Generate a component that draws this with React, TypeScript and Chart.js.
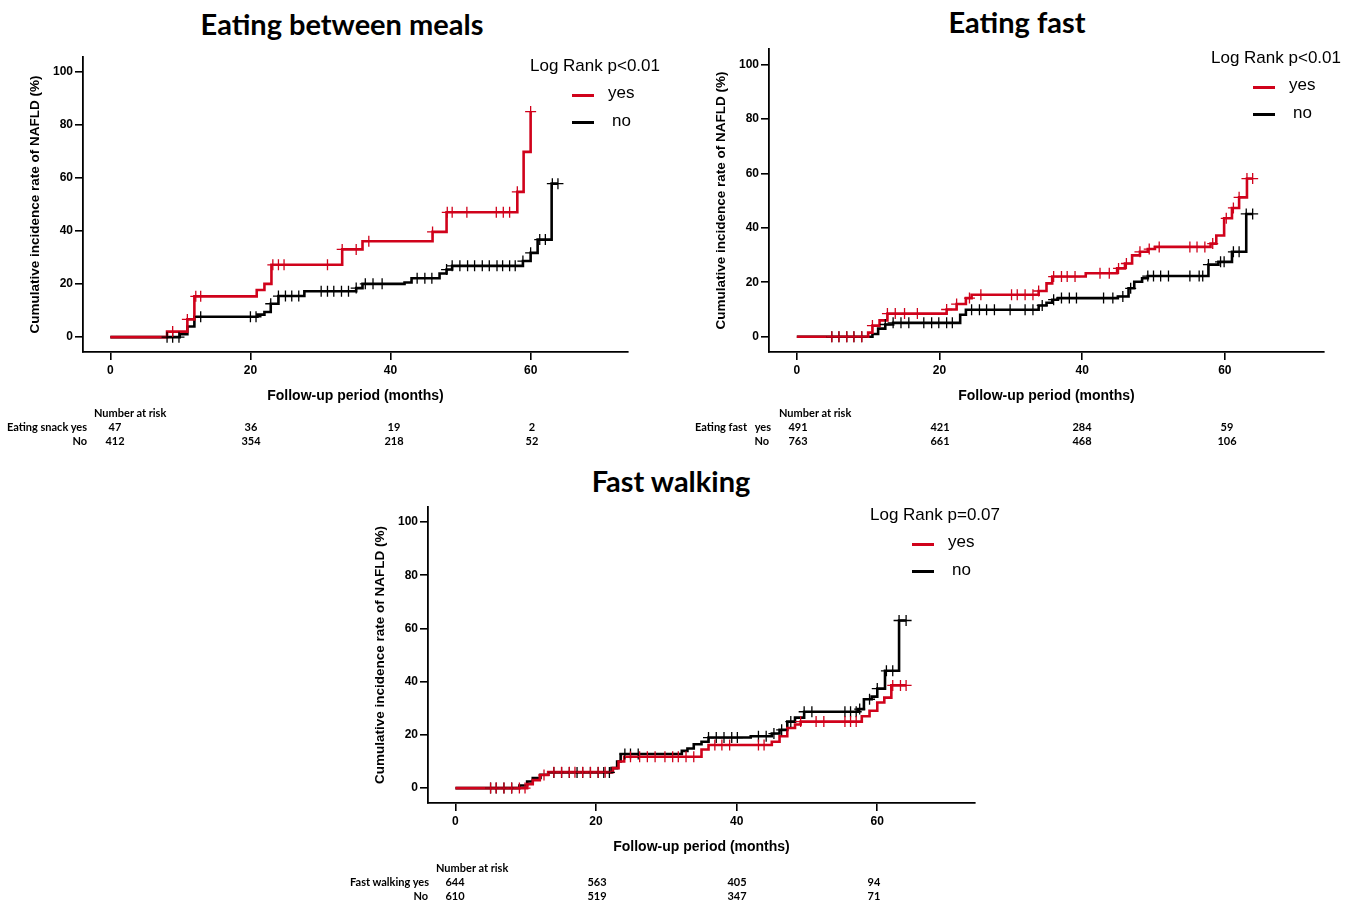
import React, { useEffect, useRef } from 'react';
import { Chart, registerables } from 'chart.js';
Chart.register(...registerables);

// ---------- shared axis values ----------
const xTicks = [0, 20, 40, 60];
const yTicks = [0, 20, 40, 60, 80, 100];
const xMin = -3.9;
const xMax = 73.9;
const yMin = -5.6;
const yMax = 105.6;

// ---------- Panel 1: Eating between meals ----------
const snackYesTimes = [0, 8.1, 11, 12, 20.9, 22, 23, 33.1, 36, 46, 48, 58.1, 59, 60];
const snackYesRates = [0, 2.1, 6.7, 15.4, 17.8, 20.1, 27.3, 33.1, 36.2, 39.7, 47.1, 54.8, 69.9, 85.1];
const snackYesCensor = [8.9, 11, 12.2, 12.9, 23.2, 24, 24.8, 31, 33.1, 35.1, 36.9, 46, 48.1, 48.8, 50.9, 55.1, 56.1, 57, 58.1, 60];
const snackNoTimes = [0, 9.9, 11, 12, 21, 22, 22.9, 24, 27.7, 35.1, 36, 42, 43, 47, 48, 48.8, 58.9, 60, 61, 63, 63.9];
const snackNoRates = [0, 1.1, 4, 7.7, 8.5, 9.5, 12.6, 15.5, 17.3, 18.5, 20.1, 20.6, 22.2, 24, 25.5, 26.9, 28.7, 31.8, 36.8, 57.9, 57.9];
const snackNoCensor = [8.1, 8.9, 9.8, 12.9, 20, 20.8, 22.9, 24, 25, 25.9, 26.9, 30.1, 31, 31.9, 33, 34, 35.1, 36.4, 37.5, 38.8, 43.8, 44.9, 45.9, 48, 48.8, 49.9, 51, 52, 53.1, 54.1, 55.2, 56, 57, 57.8, 58.9, 60, 61.3, 62.1, 63.1, 63.9];
const snackRiskYes = ['47', '36', '19', '2'];
const snackRiskNo = ['412', '354', '218', '52'];

// ---------- Panel 2: Eating fast ----------
const fastYesTimes = [0, 10, 10.6, 11.6, 12.7, 21, 22.4, 23.7, 24.5, 33.9, 35, 35.8, 40.5, 44.9, 46, 47, 48.1, 49.2, 50.2, 58, 58.8, 59.9, 61, 62, 63.1, 63.9];
const fastYesRates = [0, 1.5, 4.1, 6, 8.5, 10, 12, 14.2, 15.4, 16.8, 19.6, 22.1, 23.3, 25.1, 26.9, 29.9, 31.2, 32.2, 33, 34.2, 37.2, 43.5, 47.3, 51.2, 58.1, 58.1];
const fastYesCensor = [4.9, 5.9, 7, 8, 9.1, 10.6, 12.7, 13.8, 15.1, 16.9, 21, 22.4, 24.2, 25.8, 30.1, 30.9, 32, 33.1, 33.9, 36, 37.1, 37.9, 39, 42.5, 43.8, 45.1, 46.2, 48.1, 49.4, 50.8, 55.1, 56.1, 57.2, 58.3, 60.2, 61.2, 62, 63.1, 63.9];
const fastNoTimes = [0, 10.6, 11.4, 12.4, 13.5, 22.9, 23.7, 33.9, 35, 35.8, 36.6, 45, 46.5, 47.3, 48.4, 49.2, 57.7, 59.1, 61, 63, 63.9];
const fastNoRates = [0, 1, 3, 4.5, 5.1, 8.1, 9.9, 11.5, 12.5, 13.6, 14.2, 14.8, 17.8, 20.2, 21.5, 22.3, 26.5, 27.5, 31.2, 45.1, 45.1];
const fastNoCensor = [4.9, 5.9, 7, 8, 9.1, 12.4, 13.5, 14.6, 15.7, 17.8, 18.9, 19.9, 21, 21.8, 24.5, 25.6, 26.6, 27.7, 29.9, 32, 33.1, 34.4, 36, 37.1, 38.2, 39.2, 43, 44.3, 45.7, 46.8, 49.2, 50, 51, 52.1, 55.1, 56.4, 56.9, 57.7, 59.4, 59.9, 61.2, 62, 63, 63.9];
const fastRiskYes = ['491', '421', '284', '59'];
const fastRiskNo = ['763', '661', '468', '106'];

// ---------- Panel 3: Fast walking ----------
const walkYesTimes = [0, 10.2, 11, 12, 13.2, 22.4, 23.2, 24, 35, 36, 45, 46.1, 47.2, 48.3, 49.1, 57.8, 58.9, 60, 61, 62, 64.1];
const walkYesRates = [0, 1.5, 3, 4.9, 6, 7.5, 10, 11.8, 14.5, 16.2, 17.4, 19.5, 22.6, 23.9, 25, 27, 29.1, 32.2, 34, 38.6, 38.6];
const walkYesCensor = [5, 5.8, 6.9, 8, 9.1, 9.9, 12.6, 14, 15.1, 16.2, 17, 18.1, 19.2, 20.3, 21.3, 24.9, 26.2, 27.3, 28.4, 29.8, 30.9, 31.7, 32.8, 33.9, 36.9, 37.9, 39, 43.1, 43.9, 49.1, 51.3, 52.4, 55.4, 56.2, 57, 62.2, 63.3, 64.1];
const walkNoTimes = [0, 9.1, 10.2, 11, 12.1, 13.2, 22.2, 23, 23.5, 32.2, 33, 33.9, 35, 36, 42, 45, 46.1, 47.2, 48.3, 49.6, 57.3, 58.1, 59.2, 60, 61.1, 63.1, 64.1];
const walkNoRates = [0, 1, 2.5, 3.8, 5, 5.9, 7.5, 10, 12.8, 14, 14.9, 16.5, 17.4, 19, 19.5, 20.5, 21.9, 25, 26.5, 28.7, 29.7, 33.4, 34.4, 37.4, 44.1, 63, 63];
const walkNoCensor = [5, 5.8, 6.9, 8, 14, 15.1, 16.2, 17.3, 18.1, 19.2, 20.3, 21.1, 21.9, 24.1, 24.9, 26, 36, 37.1, 38.2, 39.3, 40.1, 43.1, 44.2, 45.3, 46.4, 47.7, 49.6, 50.7, 55.4, 56.2, 57, 57.5, 58.9, 60, 61.3, 62.2, 63.1, 64.1];
const walkRiskYes = ['644', '563', '405', '94'];
const walkRiskNo = ['610', '519', '347', '71'];

const RED = '#d0021b';
const BLACK = '#000000';

function levelAt(times: number[], rates: number[], t: number) {
  let v = rates[0];
  for (let i = 0; i < times.length; i++) if (times[i] <= t + 1e-9) v = rates[i];
  return v;
}

type PanelDef = {
  left: number; top: number; width: number; height: number;
  yesT: number[]; yesR: number[]; yesC: number[];
  noT: number[]; noR: number[]; noC: number[];
};

function KMChart({ p }: { p: PanelDef }) {
  const ref = useRef<HTMLCanvasElement>(null);
  useEffect(() => {
    const line = (t: number[], r: number[], color: string, order: number) => ({
      type: 'line' as const,
      data: t.map((x, i) => ({ x, y: r[i] })),
      borderColor: color,
      borderWidth: 2.6,
      stepped: 'before' as const,
      pointRadius: 0,
      fill: false,
      order,
    });
    const cens = (t: number[], r: number[], c: number[], color: string, order: number) => ({
      type: 'line' as const,
      data: c.map((x) => ({ x, y: levelAt(t, r, x) })),
      borderColor: color,
      showLine: false,
      pointStyle: 'cross' as const,
      pointRadius: 5.5,
      pointBorderWidth: 1.3,
      order,
    });
    const tickFont = { family: 'Liberation Sans', size: 12, weight: 'bold' };
    const chart = new Chart(ref.current!, {
      type: 'line',
      data: {
        datasets: [
          line(p.noT, p.noR, BLACK, 4),
          line(p.yesT, p.yesR, RED, 3),
          cens(p.noT, p.noR, p.noC, BLACK, 2),
          cens(p.yesT, p.yesR, p.yesC, RED, 1),
        ] as any,
      },
      options: {
        animation: false,
        responsive: false,
        devicePixelRatio: 1,
        layout: { padding: { left: 0, top: 5, right: 10, bottom: 0 } },
        plugins: { legend: { display: false }, tooltip: { enabled: false } },
        scales: {
          x: {
            type: 'linear',
            min: xMin,
            max: xMax,
            afterBuildTicks: (s: any) => { s.ticks = xTicks.map((v) => ({ value: v })); },
            afterFit: (s: any) => { s.height = 55; },
            grid: { drawOnChartArea: false, drawTicks: true, tickLength: 8, color: '#000', lineWidth: 1.6 },
            border: { display: true, color: '#000', width: 1.8 },
            ticks: { color: '#000', font: tickFont, padding: 3, maxRotation: 0, autoSkip: false },
            title: { display: true, text: 'Follow-up period (months)', color: '#000', font: { family: 'Liberation Sans', size: 14, weight: 'bold' }, padding: { top: 0, bottom: 2.6 } },
          },
          y: {
            type: 'linear',
            min: yMin,
            max: yMax,
            afterBuildTicks: (s: any) => { s.ticks = yTicks.map((v) => ({ value: v })); },
            afterFit: (s: any) => { s.width = 60; },
            grid: { drawOnChartArea: false, drawTicks: true, tickLength: 8, color: '#000', lineWidth: 1.6 },
            border: { display: true, color: '#000', width: 1.8 },
            ticks: { color: '#000', font: tickFont, padding: 2, autoSkip: false },
            title: { display: true, text: 'Cumulative incidence rate of NAFLD (%)', color: '#000', font: { family: 'Liberation Sans', size: 13.5, weight: 'bold' }, padding: { top: 3.9, bottom: 0 } },
          },
        },
      } as any,
    });
    return () => chart.destroy();
  }, []);
  return (
    <canvas
      ref={ref}
      width={p.width}
      height={p.height}
      style={{ position: 'absolute', left: p.left, top: p.top, width: p.width, height: p.height }}
    />
  );
}

type TextProps = { x: number; y: number; text: string; font: string; align?: 'left' | 'center' | 'right'; color?: string };
function T({ x, y, text, font, align = 'left', color = '#000' }: TextProps) {
  const tx = align === 'center' ? 'translateX(-50%)' : align === 'right' ? 'translateX(-100%)' : 'none';
  return (
    <div style={{ font, lineHeight: '40px', position: 'absolute', left: x, top: y - 20, height: 40, color, whiteSpace: 'nowrap', transform: tx }}>
      {text}
    </div>
  );
}

function LegendBlock({ x, y, label }: { x: number; y: number; label: string }) {
  // x,y: left / vertical centre of the "Log Rank" text
  const f = '17px "Liberation Sans", Arial, sans-serif';
  return (
    <>
      <T x={x} y={y} text={label} font={f} />
      <div style={{ position: 'absolute', left: x + 42, top: y + 28, width: 22, height: 2.5, background: RED }} />
      <T x={x + 78} y={y + 27} text="yes" font={f} />
      <div style={{ position: 'absolute', left: x + 42, top: y + 55, width: 22, height: 2.5, background: BLACK }} />
      <T x={x + 82} y={y + 55} text="no" font={f} />
    </>
  );
}

const riskFont = 'bold 11px Lato, "Open Sans", sans-serif';
const titleFont = 'bold 29px Lato, "Open Sans", sans-serif';

function RiskTable({ headX, headY, groupLabel, yesLabelRight, noLabelRight, cols, yes, no, groupLeft }: {
  headX: number; headY: number; groupLabel: string; yesLabelRight: number; noLabelRight: number; cols: number[]; yes: string[]; no: string[]; groupLeft?: number;
}) {
  return (
    <>
      <T x={headX} y={headY} text="Number at risk" font={riskFont} />
      {groupLeft !== undefined ? (
        <>
          <T x={groupLeft} y={headY + 14} text={groupLabel} font={riskFont} />
          <T x={yesLabelRight} y={headY + 14} text="yes" font={riskFont} align="right" />
        </>
      ) : (
        <T x={yesLabelRight} y={headY + 14} text={groupLabel + ' yes'} font={riskFont} align="right" />
      )}
      <T x={noLabelRight} y={headY + 28} text="No" font={riskFont} align="right" />
      {cols.map((c, i) => (
        <React.Fragment key={i}>
          <T x={c} y={headY + 14} text={yes[i]} font={riskFont} align="center" />
          <T x={c} y={headY + 28} text={no[i]} font={riskFont} align="center" />
        </React.Fragment>
      ))}
    </>
  );
}

const panel1: PanelDef = { left: 23, top: 48, width: 615, height: 359, yesT: snackYesTimes, yesR: snackYesRates, yesC: snackYesCensor, noT: snackNoTimes, noR: snackNoRates, noC: snackNoCensor };
const panel2: PanelDef = { left: 709, top: 40, width: 625, height: 367, yesT: fastYesTimes, yesR: fastYesRates, yesC: fastYesCensor, noT: fastNoTimes, noR: fastNoRates, noC: fastNoCensor };
const panel3: PanelDef = { left: 368, top: 498, width: 617, height: 360, yesT: walkYesTimes, yesR: walkYesRates, yesC: walkYesCensor, noT: walkNoTimes, noR: walkNoRates, noC: walkNoCensor };

export default function App() {
  return (
    <div style={{ position: 'absolute', left: 0, top: 0, width: 1360, height: 902, background: '#fff', overflow: 'hidden' }}>
      <T x={342} y={24} text="Eating between meals" font={titleFont} align="center" />
      <T x={1017} y={22} text="Eating fast" font={titleFont} align="center" />
      <T x={671} y={481} text="Fast walking" font={titleFont} align="center" />

      <KMChart p={panel1} />
      <KMChart p={panel2} />
      <KMChart p={panel3} />

      <LegendBlock x={530} y={66} label="Log Rank p<0.01" />
      <LegendBlock x={1211} y={58} label="Log Rank p<0.01" />
      <LegendBlock x={870} y={515} label="Log Rank p=0.07" />

      <RiskTable headX={94} headY={413} groupLabel="Eating snack" yesLabelRight={87} noLabelRight={87} cols={[115, 251, 394, 532]} yes={snackRiskYes} no={snackRiskNo} />
      <RiskTable headX={779} headY={413} groupLabel="Eating fast" groupLeft={695} yesLabelRight={771} noLabelRight={769} cols={[798, 940, 1082, 1227]} yes={fastRiskYes} no={fastRiskNo} />
      <RiskTable headX={436} headY={868} groupLabel="Fast walking" yesLabelRight={429} noLabelRight={428} cols={[455, 597, 737, 874]} yes={walkRiskYes} no={walkRiskNo} />
    </div>
  );
}
